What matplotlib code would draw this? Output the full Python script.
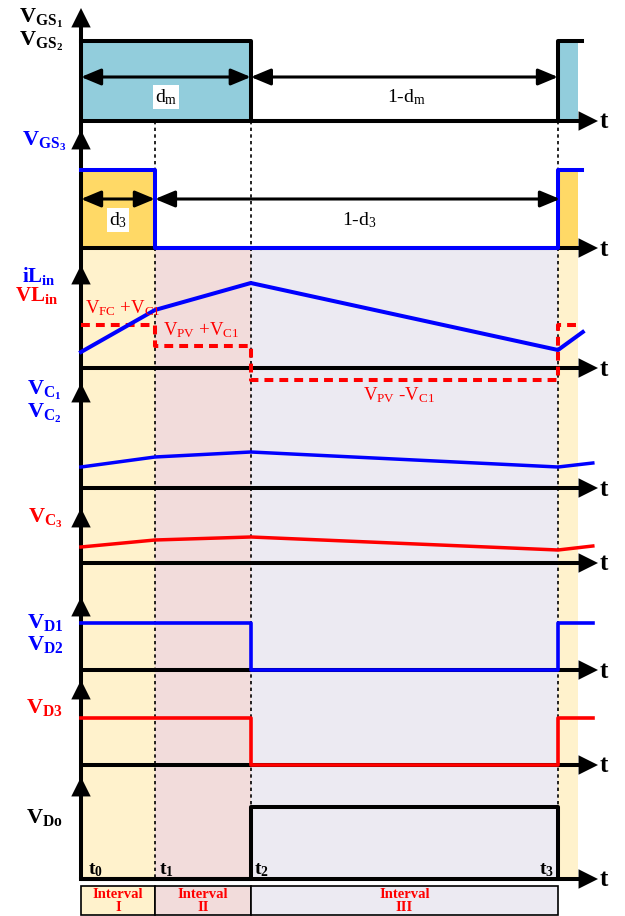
import matplotlib.pyplot as plt
from matplotlib.patches import Rectangle

plt.rcParams['font.family'] = ['Liberation Serif', 'DejaVu Serif']
plt.rcParams['mathtext.fontset'] = 'custom'
plt.rcParams['mathtext.rm'] = 'Liberation Serif'
plt.rcParams['mathtext.it'] = 'Liberation Serif:italic'
plt.rcParams['mathtext.bf'] = 'Liberation Serif:bold'

BLUE = '#0000FF'
RED = '#FF0000'

# switching instants over one period (t0 = 0, t3 = 1, next period starts at t3)
t0, t1, t2, t3 = 0.0, 0.155, 0.356, 1.0
t_gate_end = 1.050
t_fill_end = 1.042
t_wave_end = 1.073

# levels are heights above each trace's own time axis
vgs12_edges = [t0, t2, t3, t_gate_end]
vgs12_levels = [80, 0, 80]
vgs3_edges = [t0, t1, t3, t_gate_end]
vgs3_levels = [78, 0, 78]

il_t = [t0, t1, t2, t3, 1.052]
il_vals = [16, 58, 85, 18, 36]
vl_edges = [t0, t1, t2, t3, t_fill_end]
vl_levels = [43, 22, -12, 43]

vc_t = [t0, t1, t2, t3, t_wave_end]
vc12_vals = [21, 31, 36, 21, 25]
vc3_vals = [16, 23, 26, 13, 17]

vd_edges = [t0, t2, t3, t_wave_end]
vd12_levels = [47, 0, 47]
vd3_levels = [47, 0, 47]

vdo_edges = [t0, t2, t3, t3]
vdo_levels = [0, 72, 0]

interval_names = ['I', 'II', 'III']
interval_edges = [t0, t1, t2, t3]
interval_colors = ['#FFF2CC', '#F2DCDB', '#ECEAF2']

# row layout in figure pixels (y grows downward): time axis row and arrow tip
row_base = dict(gs12=121, gs3=248, il=368, c12=488, c3=563, d12=670, d3=765, do=879)
row_tip = dict(gs12=8, gs3=130, il=265, c12=383, c3=508, d12=597, d3=680, do=777)


def px(x):
	# horizontal figure pixel -> time
	return (x - 81) / 477.0


def step_xy(edges, levels, base):
	xs, ys = [], []
	for i, lv in enumerate(levels):
		xs += [edges[i], edges[i + 1]]
		ys += [base - lv, base - lv]
	return xs, ys


def head(ax, x0, y0, x1, y1, hl=1.4, hw=0.7):
	ax.annotate('', xy=(x1, y1), xytext=(x0, y0), zorder=6,
				arrowprops=dict(arrowstyle='-|>,head_length={},head_width={}'.format(hl, hw),
								lw=0, color='k', shrinkA=0, shrinkB=0, mutation_scale=10))


def span_arrow(ax, xa, xb, y):
	ax.annotate('', xy=(xb, y), xytext=(xa, y), zorder=6,
				arrowprops=dict(arrowstyle='<|-|>,head_length=1.2,head_width=0.5',
								lw=2.2, color='k', shrinkA=0, shrinkB=0, mutation_scale=10))


fig = plt.figure(figsize=(6.25, 9.16), dpi=100)
ax = fig.add_axes([0, 0, 1, 1])
ax.set_xlim(px(0), px(625))
ax.set_ylim(916, 0)
ax.axis('off')

# background shading of the intervals
bg_top, bg_bot = 250, row_base['do']
for i in range(3):
	ax.add_patch(Rectangle((interval_edges[i], bg_top), interval_edges[i + 1] - interval_edges[i],
						   bg_bot - bg_top, fc=interval_colors[i], ec='none', zorder=0))
ax.add_patch(Rectangle((t3, bg_top), t_fill_end - t3, bg_bot - bg_top,
					   fc=interval_colors[0], ec='none', zorder=0))

# gate pulse fills
b = row_base['gs12']
ax.fill_between([t0, t2], b - vgs12_levels[0], b, color='#92CDDC', lw=0, zorder=1)
ax.fill_between([t3, t_fill_end], b - vgs12_levels[2], b, color='#92CDDC', lw=0, zorder=1)
b = row_base['gs3']
ax.fill_between([t0, t1], b - vgs3_levels[0], b, color='#FFD966', lw=0, zorder=1)
ax.fill_between([t3, t_fill_end], b - vgs3_levels[2], b, color='#FFD966', lw=0, zorder=1)

# dotted switching instants
for t in [t1, t2, t3]:
	ax.plot([t, t], [row_base['gs12'], row_base['do']], color='k', lw=1.2,
			ls=(0, (2, 2)), zorder=2)

# axes: one vertical axis with an arrow per trace, one time axis per trace
ax.plot([0, 0], [row_base['do'], row_tip['gs12'] + 10], color='k', lw=2.9, zorder=3,
		solid_capstyle='butt')
for key in row_base:
	y = row_base[key]
	ax.plot([0, px(588)], [y, y], color='k', lw=2.9, zorder=3, solid_capstyle='butt')
	head(ax, px(570), y, px(598), y)
	head(ax, 0, row_tip[key] + 30, 0, row_tip[key])
	ax.text(px(600), y + 1, 't', fontsize=18, fontweight='bold', ha='left', va='center', zorder=6)

# traces
xs, ys = step_xy(vgs12_edges, vgs12_levels, row_base['gs12'])
ax.plot(xs, ys, color='k', lw=2.9, zorder=4)
xs, ys = step_xy(vgs3_edges, vgs3_levels, row_base['gs3'])
ax.plot(xs, ys, color=BLUE, lw=2.9, zorder=4)

xs, ys = step_xy(vl_edges, vl_levels, row_base['il'])
ax.plot(xs, ys, color=RED, lw=2.9, ls=(0, (2.2, 1.5)), zorder=4)
ax.plot(il_t, [row_base['il'] - v for v in il_vals], color=BLUE, lw=2.9, zorder=5)

ax.plot(vc_t, [row_base['c12'] - v for v in vc12_vals], color=BLUE, lw=2.5, zorder=4)
ax.plot(vc_t, [row_base['c3'] - v for v in vc3_vals], color=RED, lw=2.5, zorder=4)

xs, ys = step_xy(vd_edges, vd12_levels, row_base['d12'])
ax.plot(xs, ys, color=BLUE, lw=2.6, zorder=4)
xs, ys = step_xy(vd_edges, vd3_levels, row_base['d3'])
ax.plot(xs, ys, color=RED, lw=2.6, zorder=4)
xs, ys = step_xy(vdo_edges, vdo_levels, row_base['do'])
ax.plot(xs, ys, color='k', lw=2.9, zorder=4)

# duty cycle arrows
span_arrow(ax, t0, t2, 77)
span_arrow(ax, t2, t3, 77)
span_arrow(ax, t0, t1, 199)
span_arrow(ax, t1, px(560), 199)
ax.text(px(166), 102, r'd$_\mathrm{m}$', fontsize=14, ha='center', va='baseline', zorder=7,
		bbox=dict(fc='white', ec='none', pad=1.5))
ax.text(px(406), 102, r'1-d$_\mathrm{m}$', fontsize=14, ha='center', va='baseline', zorder=7)
ax.text(px(118), 225, r'd$_\mathrm{3}$', fontsize=14, ha='center', va='baseline', zorder=7,
		bbox=dict(fc='white', ec='none', pad=1.5))
ax.text(px(359), 225, r'1-d$_\mathrm{3}$', fontsize=14, ha='center', va='baseline', zorder=7)

# inductor voltage levels
ax.text(px(85), 313, r'V$_\mathrm{FC}$ +V$_\mathrm{C1}$', fontsize=13.5, color=RED,
		ha='left', va='baseline', zorder=7)
ax.text(px(163), 335, r'V$_\mathrm{PV}$ +V$_\mathrm{C1}$', fontsize=13.5, color=RED,
		ha='left', va='baseline', zorder=7)
ax.text(px(363), 400, r'V$_\mathrm{PV}$ -V$_\mathrm{C1}$', fontsize=13.5, color=RED,
		ha='left', va='baseline', zorder=7)

# trace names
labels = [
	(r'$\mathbf{V_{GS_1}}$', 63, 23, 'k', 16),
	(r'$\mathbf{V_{GS_2}}$', 63, 46, 'k', 16),
	(r'$\mathbf{V_{GS_3}}$', 66, 146, BLUE, 16),
	(r'$\mathbf{iL_{in}}$', 56, 282, BLUE, 15),
	(r'$\mathbf{VL_{in}}$', 58, 301, RED, 15),
	(r'$\mathbf{V_{C_1}}$', 62, 395, BLUE, 16),
	(r'$\mathbf{V_{C_2}}$', 62, 418, BLUE, 16),
	(r'$\mathbf{V_{C_3}}$', 63, 523, RED, 16),
	(r'$\mathbf{V_{D1}}$', 63, 628, BLUE, 16),
	(r'$\mathbf{V_{D2}}$', 63, 650, BLUE, 16),
	(r'$\mathbf{V_{D3}}$', 63, 713, RED, 16),
	(r'$\mathbf{V_{Do}}$', 63, 823, 'k', 16),
]
for s, xr, yb, c, fs in labels:
	ax.text(px(xr), yb, s, color=c, fontsize=fs, ha='right', va='baseline', zorder=7)

# instants
for name, xl in zip(['0', '1', '2', '3'], [88, 159, 254, 539]):
	ax.text(px(xl), 874, r'$\mathbf{t_{' + name + '}}$', fontsize=14, ha='left',
			va='baseline', zorder=7)

# interval boxes under the time axis
for i in range(3):
	xc = (interval_edges[i] + interval_edges[i + 1]) / 2
	ax.add_patch(Rectangle((interval_edges[i], 886), interval_edges[i + 1] - interval_edges[i], 29,
						   fc=interval_colors[i], ec='k', lw=1.2, zorder=3))
	ax.text(xc, 898, 'Interval', color=RED, fontsize=10.5, fontweight='bold',
			ha='center', va='baseline', zorder=7)
	ax.text(xc, 911, interval_names[i], color=RED, fontsize=10.5, fontweight='bold',
			ha='center', va='baseline', zorder=7)

fig.savefig('out.png', dpi=100)
